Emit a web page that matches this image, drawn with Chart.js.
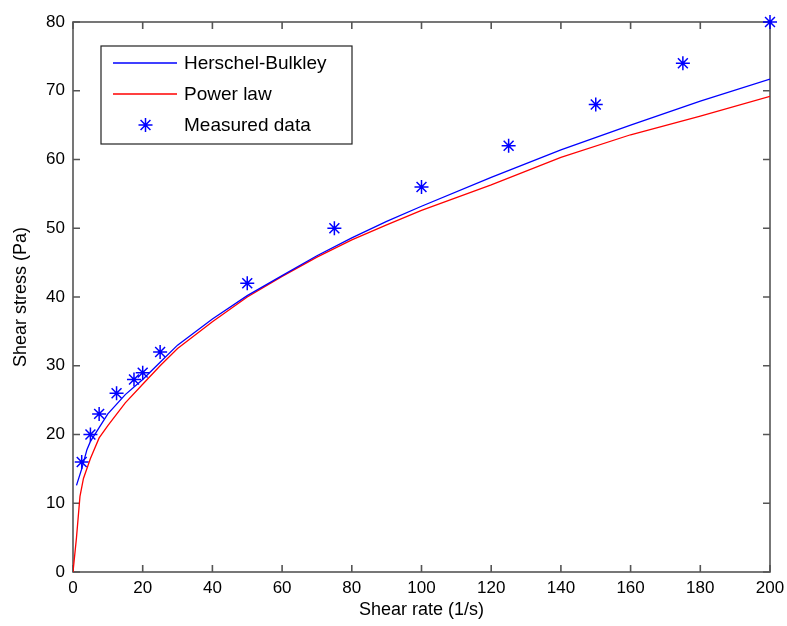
<!DOCTYPE html>
<html>
<head>
<meta charset="utf-8">
<script src="https://cdn.jsdelivr.net/npm/chart.js@4.4.1/dist/chart.umd.min.js"></script>
<style>
  html, body { margin: 0; padding: 0; background: #fff; }
  canvas { display: block; }
</style>
</head>
<body>
<canvas id="rheoChart" width="787" height="626"></canvas>
<script>
// measured data
var shearRate = [2.5, 5, 7.5, 12.5, 17.5, 20, 25, 50, 75, 100, 125, 150, 175, 200];
var shearStress = [16, 20, 23, 26, 28, 29, 32, 42, 50, 56, 62, 68, 74, 80];

// Herschel-Bulkley curve
var hbRate = [1, 2.5, 4, 5, 7.5, 10, 15, 20, 25, 30, 40, 50, 60, 70, 80, 90, 100, 120, 140, 160, 180, 200];
var hbStress = [12.6, 15.0, 17.8, 19.0, 21.0, 23.0, 25.8, 28.0, 30.5, 33.0, 36.8, 40.2, 43.1, 46.0, 48.6, 51.0, 53.2, 57.4, 61.4, 65.0, 68.5, 71.7];

// power law curve
var plRate = [0, 1, 2, 3, 5, 7.5, 10, 15, 20, 25, 30, 40, 50, 60, 70, 80, 90, 100, 120, 140, 160, 180, 200];
var plStress = [0, 5, 11, 13.6, 16.5, 19.5, 21.3, 24.6, 27.3, 30.0, 32.5, 36.4, 40.0, 43.0, 45.8, 48.3, 50.5, 52.6, 56.3, 60.3, 63.6, 66.3, 69.2];

var fontFam = "Arial, 'Liberation Sans', Helvetica, sans-serif";

function toPoints(xs, ys) {
  return xs.map(function (x, i) { return { x: x, y: ys[i] }; });
}

// matlab-ish box with inward ticks, plus the legend box
var matlabFrame = {
  id: 'matlabFrame',
  beforeDatasetsDraw: function (chart) {
    var ctx = chart.ctx, a = chart.chartArea;
    var xs = chart.scales.x, ys = chart.scales.y;
    var len = 7;
    ctx.save();
    ctx.strokeStyle = '#555';
    ctx.lineWidth = 1.6;
    ctx.strokeRect(a.left, a.top, a.right - a.left, a.bottom - a.top);
    ctx.beginPath();
    xs.ticks.forEach(function (t) {
      var px = xs.getPixelForValue(t.value);
      ctx.moveTo(px, a.bottom); ctx.lineTo(px, a.bottom - len);
      ctx.moveTo(px, a.top); ctx.lineTo(px, a.top + len);
    });
    ys.ticks.forEach(function (t) {
      var py = ys.getPixelForValue(t.value);
      ctx.moveTo(a.left, py); ctx.lineTo(a.left + len, py);
      ctx.moveTo(a.right, py); ctx.lineTo(a.right - len, py);
    });
    ctx.stroke();
    ctx.restore();
  },
  afterDraw: function (chart) {
    var ctx = chart.ctx;
    var bx = 101, by = 46, bw = 251, bh = 98;
    ctx.save();
    ctx.fillStyle = '#fff';
    ctx.fillRect(bx, by, bw, bh);
    ctx.strokeStyle = '#222';
    ctx.lineWidth = 1.2;
    ctx.strokeRect(bx, by, bw, bh);
    ctx.font = '19px ' + fontFam;
    ctx.textBaseline = 'middle';
    ctx.textAlign = 'left';
    var rows = [by + 17, by + 48, by + 79];
    chart.data.datasets.forEach(function (ds, i) {
      var y = rows[i];
      ctx.strokeStyle = ds.borderColor;
      ctx.lineWidth = 1.3;
      if (ds.showLine) {
        ctx.beginPath();
        ctx.moveTo(113, y);
        ctx.lineTo(177, y);
        ctx.stroke();
      } else {
        ctx.lineWidth = 1.5;
        Chart.helpers.drawPoint(ctx, { pointStyle: 'star', radius: 7, rotation: 0, borderWidth: 1.5 }, 145.5, y);
      }
      ctx.fillStyle = '#000';
      ctx.fillText(ds.label, 184, y + 1);
    });
    ctx.restore();
  }
};

var ctx = document.getElementById('rheoChart').getContext('2d');
var rheoChart = new Chart(ctx, {
  type: 'scatter',
  data: {
    datasets: [
      {
        label: 'Herschel-Bulkley',
        data: toPoints(hbRate, hbStress),
        showLine: true,
        borderColor: '#0000ff',
        borderWidth: 1.3,
        pointRadius: 0,
        tension: 0
      },
      {
        label: 'Power law',
        data: toPoints(plRate, plStress),
        showLine: true,
        borderColor: '#ff0000',
        borderWidth: 1.3,
        pointRadius: 0,
        tension: 0
      },
      {
        label: 'Measured data',
        data: toPoints(shearRate, shearStress),
        showLine: false,
        borderColor: '#0000ff',
        backgroundColor: '#0000ff',
        pointStyle: 'star',
        pointRadius: 7,
        pointBorderWidth: 1.5,
        clip: false
      }
    ]
  },
  options: {
    responsive: false,
    animation: false,
    events: [],
    layout: { padding: { top: 22, right: 17, left: 0, bottom: 0 } },
    plugins: {
      legend: { display: false },
      tooltip: { enabled: false }
    },
    scales: {
      x: {
        type: 'linear',
        min: 0,
        max: 200,
        ticks: { stepSize: 20, color: '#000', padding: 6, maxRotation: 0, autoSkip: false,
                 font: { size: 17, family: fontFam } },
        grid: { display: false, drawTicks: false },
        border: { display: false },
        title: { display: true, text: 'Shear rate (1/s)', color: '#000',
                 font: { size: 18, family: fontFam }, padding: { top: 0, bottom: 5 } },
        afterFit: function (s) { s.height = 54; s.paddingLeft = 0; s.paddingRight = 0; }
      },
      y: {
        type: 'linear',
        min: 0,
        max: 80,
        ticks: { stepSize: 10, color: '#000', padding: 8,
                 font: { size: 17, family: fontFam } },
        grid: { display: false, drawTicks: false },
        border: { display: false },
        title: { display: true, text: 'Shear stress (Pa)', color: '#000',
                 font: { size: 18, family: fontFam }, padding: { top: 10, bottom: 0 } },
        afterFit: function (s) { s.width = 73; }
      }
    }
  },
  plugins: [matlabFrame]
});
</script>
</body>
</html>
